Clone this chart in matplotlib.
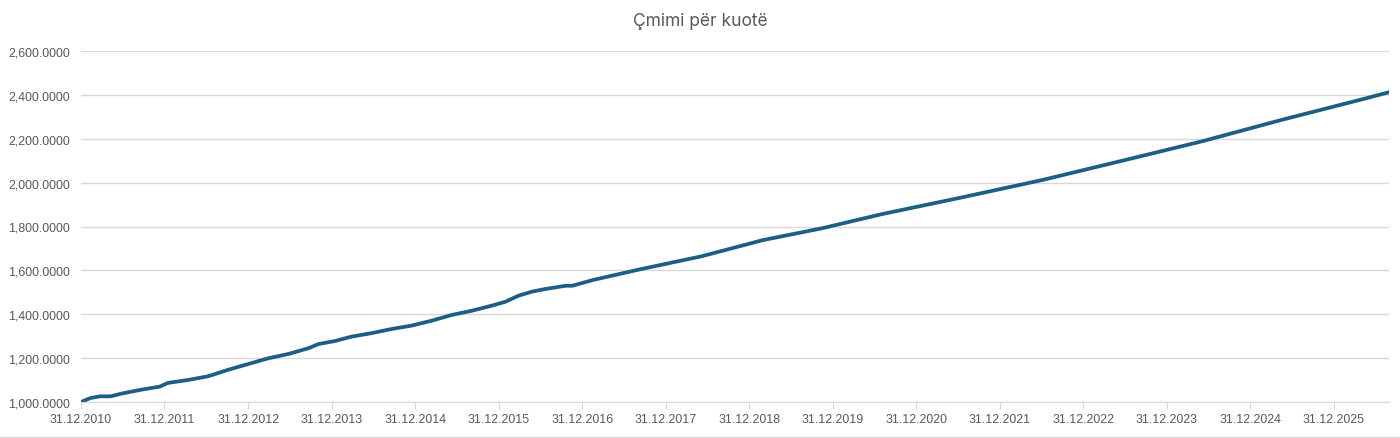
import pandas as pd
import matplotlib
matplotlib.use("Agg")
import matplotlib.pyplot as plt
import matplotlib.dates as mdates
from matplotlib.ticker import FuncFormatter
from matplotlib.lines import Line2D

# valori i kuotes, lexuar nga grafiku
datat = [
    "2010-12-31", "2011-02-10", "2011-03-25", "2011-05-10", "2011-06-25",
    "2011-09-20", "2011-12-10", "2012-01-15", "2012-04-10", "2012-07-08",
    "2012-10-05", "2012-12-31", "2013-03-28", "2013-06-25", "2013-09-20",
    "2013-11-03", "2014-01-15", "2014-03-28", "2014-06-25", "2014-09-20",
    "2014-12-15", "2015-03-15", "2015-06-10", "2015-09-05", "2015-12-01",
    "2016-01-30", "2016-03-28", "2016-05-25", "2016-07-22", "2016-10-20",
    "2016-11-18", "2017-02-15", "2017-09-15", "2018-06-05", "2019-03-01",
    "2019-11-15", "2020-08-05", "2021-07-20", "2022-07-05", "2023-06-20",
    "2024-06-05", "2025-05-20", "2026-05-08", "2026-08-29",
]
cmimi = [
    1000, 1018, 1026, 1026, 1038,
    1056, 1070, 1087, 1100, 1117,
    1147, 1173, 1199, 1219, 1245,
    1264, 1278, 1298, 1314, 1333,
    1348, 1371, 1397, 1416, 1439,
    1457, 1485, 1503, 1515, 1530,
    1530, 1556, 1606, 1664, 1738,
    1792, 1857, 1933, 2012, 2100,
    2189, 2287, 2381, 2412,
]
vitet = [f"{v}-12-31" for v in range(2010, 2026)]

df = pd.DataFrame({"data": pd.to_datetime(datat), "cmimi": cmimi})

fig = plt.figure(figsize=(14, 4.39), dpi=100)
ax = fig.add_axes([81 / 1400, 1 - 403 / 439, 1308 / 1400, 351 / 439])

ax.plot(df["data"], df["cmimi"], color="#1B5F85", lw=2.7, solid_capstyle="round")

ax.set_xlim(pd.Timestamp("2010-12-31"), pd.Timestamp("2026-08-29"))
ax.set_ylim(1000, 2600)
ax.set_yticks(range(1000, 2601, 200))
ax.yaxis.set_major_formatter(FuncFormatter(lambda v, p: f"{v:,.4f}"))
ax.set_xticks(pd.to_datetime(vitet))
ax.xaxis.set_major_formatter(mdates.DateFormatter("%d.%m.%Y"))

ax.grid(axis="y", color="#D9D9D9", lw=1)
ax.set_axisbelow(True)
for s in ["top", "right", "left"]:
    ax.spines[s].set_visible(False)
ax.spines["bottom"].set_color("#D9D9D9")
ax.tick_params(axis="y", length=0, pad=8, labelsize=8.9, labelcolor="#595959")
ax.tick_params(axis="x", length=5, color="#D9D9D9", pad=3, labelsize=8.9, labelcolor="#595959")
for lbl in ax.get_xticklabels() + ax.get_yticklabels():
    lbl.set_fontfamily("Liberation Sans")

fig.text(0.5, 1 - 21 / 439, "Çmimi për kuotë", ha="center", va="center",
         fontsize=12.5, color="#595959", family="Inter")
fig.add_artist(Line2D([0, 1], [1.5 / 439, 1.5 / 439], color="#D9D9D9", lw=1))

fig.savefig("out.png", dpi=100)
